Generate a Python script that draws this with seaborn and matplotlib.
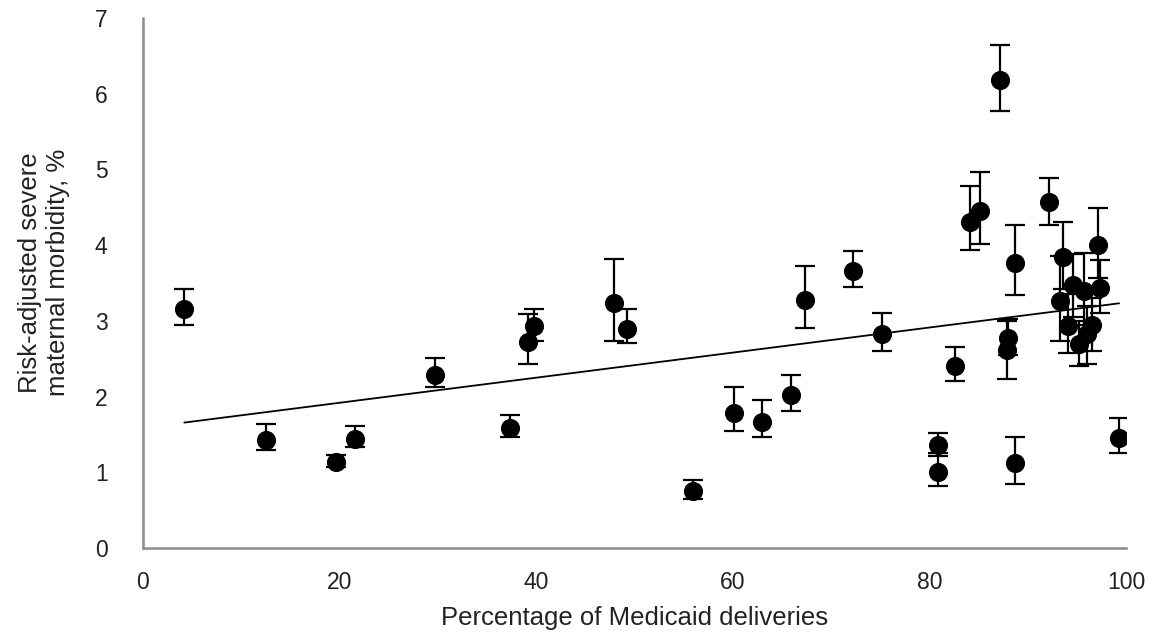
import numpy as np
import pandas as pd
import matplotlib.pyplot as plt
import seaborn as sns

# Hospital-level values
medicaid_pct = [4.2, 12.5, 19.6, 21.6, 29.7, 37.3, 39.2, 39.8, 47.9, 49.2,
                56.0, 60.1, 63.0, 65.9, 67.4, 72.2, 75.2, 80.9, 80.9, 82.6,
                84.1, 85.2, 87.2, 87.9, 88.0, 88.7, 88.7, 92.2, 93.3, 93.6,
                94.1, 94.6, 95.2, 95.7, 96.0, 96.5, 97.2, 97.4, 99.3]
smm_rate = [3.15, 1.42, 1.14, 1.44, 2.29, 1.59, 2.72, 2.93, 3.23, 2.89,
            0.75, 1.78, 1.67, 2.02, 3.28, 3.66, 2.83, 1.36, 1.00, 2.41,
            4.31, 4.45, 6.18, 2.61, 2.78, 3.76, 1.12, 4.57, 3.26, 3.84,
            2.93, 3.48, 2.69, 3.40, 2.82, 2.95, 4.00, 3.44, 1.45]
ci_low = [2.94, 1.30, 1.07, 1.34, 2.13, 1.47, 2.43, 2.74, 2.74, 2.71,
          0.65, 1.55, 1.47, 1.81, 2.91, 3.45, 2.60, 1.25, 0.82, 2.20,
          3.93, 4.01, 5.77, 2.23, 2.55, 3.34, 0.85, 4.26, 2.74, 3.42,
          2.57, 3.05, 2.40, 2.95, 2.43, 2.60, 3.57, 3.11, 1.25]
ci_high = [3.42, 1.64, 1.23, 1.61, 2.51, 1.75, 3.09, 3.16, 3.82, 3.16,
           0.90, 2.12, 1.95, 2.29, 3.73, 3.92, 3.11, 1.52, 1.21, 2.66,
           4.78, 4.97, 6.64, 3.00, 3.03, 4.26, 1.47, 4.89, 3.85, 4.30,
           3.35, 3.88, 3.00, 3.90, 3.20, 3.30, 4.49, 3.81, 1.72]

df = pd.DataFrame({'medicaid': medicaid_pct, 'smm': smm_rate,
                   'lo': ci_low, 'hi': ci_high})

sns.set_style('white')
plt.rcParams['font.family'] = ['Liberation Sans', 'DejaVu Sans']

fig = plt.figure(figsize=(11.68, 6.35), dpi=100)
ax = fig.add_axes([0.1224, 0.137, 0.8416, 0.8347])

# error bars (asymmetric)
yerr = np.array([df['smm'] - df['lo'], df['hi'] - df['smm']])
ax.errorbar(df['medicaid'], df['smm'], yerr=yerr, fmt='none',
            ecolor='black', elinewidth=1.6, capsize=7, capthick=1.6, zorder=2)

# fitted line
sns.regplot(data=df, x='medicaid', y='smm', ax=ax, scatter=False, ci=None,
            truncate=True, line_kws={'color': 'black', 'linewidth': 1.3, 'zorder': 1})

sns.scatterplot(data=df, x='medicaid', y='smm', ax=ax, color='black',
                s=190, edgecolor='black', linewidth=0, zorder=3)

ax.set_xlim(0, 100)
ax.set_ylim(0, 7)
ax.set_xticks(range(0, 101, 20))
ax.set_yticks(range(0, 8))

for side in ['top', 'right']:
    ax.spines[side].set_visible(False)
for side in ['left', 'bottom']:
    ax.spines[side].set_color('#8c8c8c')
    ax.spines[side].set_linewidth(1.8)

ax.tick_params(axis='both', direction='out', length=9.5, width=1.4,
               color='#8c8c8c', labelsize=16.5, labelcolor='#222222')
ax.tick_params(axis='x', pad=7)
ax.tick_params(axis='y', pad=16)

ax.set_xlabel('Percentage of Medicaid deliveries', fontsize=18.5,
              color='#222222', labelpad=9)
ax.set_ylabel('Risk-adjusted severe\nmaternal morbidity, %', fontsize=18.5,
              color='#222222')
ax.yaxis.set_label_coords(-0.074, 0.52)

plt.savefig('out.png', dpi=100)
